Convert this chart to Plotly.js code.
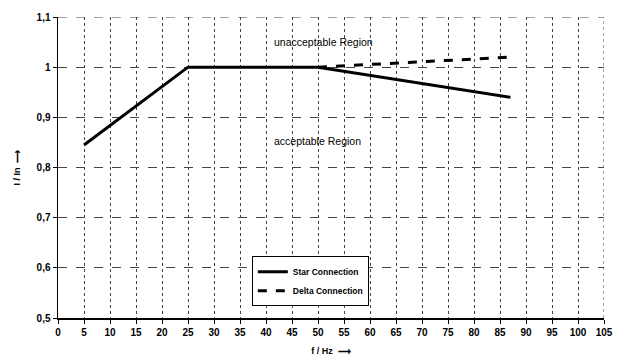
<!DOCTYPE html>
<html><head><meta charset="utf-8">
<script src="https://cdn.plot.ly/plotly-3.0.1.min.js"></script>
<style>html,body{margin:0;padding:0;background:#fff}#c{width:618px;height:362px}</style>
</head><body><div id="c"></div>
<script>
const starF = [5, 25, 50, 87];
const starI = [0.845, 1.0, 1.0, 0.94];
const deltaF = [50, 87];
const deltaI = [1.0, 1.02];
const seriesNames = ["Star Connection", "Delta Connection"];
const regionLabels = ["unacceptable Region", "acceptable Region"];

const font = "Liberation Sans, Arial, sans-serif";
const traces = [
  {x: starF, y: starI, name: seriesNames[0], mode: "lines", line: {color: "#000", width: 3}},
  {x: deltaF, y: deltaI, name: seriesNames[1], mode: "lines", line: {color: "#000", width: 3, dash: "dash"}}
];
const layout = {
  width: 618, height: 362,
  margin: {l: 58, r: 14, t: 17, b: 44},
  paper_bgcolor: "#fff", plot_bgcolor: "#fff",
  separators: ",.",
  font: {family: font, color: "#000", size: 10},
  showlegend: true,
  legend: {x: 0.355, y: 0.205, xanchor: "left", yanchor: "top", bordercolor: "#000", borderwidth: 1,
           bgcolor: "#fff", font: {size: 8.5, family: font, weight: "bold"}, tracegroupgap: 0, itemwidth: 30},
  xaxis: {range: [0, 105], dtick: 5, tick0: 0, showgrid: true, gridcolor: "#444", griddash: "dot", gridwidth: 1,
          showline: true, linecolor: "#000", linewidth: 1.5, ticks: "outside", ticklen: 4, tickcolor: "#000",
          zeroline: false, tickfont: {size: 10, weight: "bold"}, mirror: false,
          title: {text: "<b>f / Hz  ⟶</b>", font: {size: 9}, standoff: 11}},
  yaxis: {range: [0.5, 1.1], dtick: 0.1, tick0: 0.5, showgrid: true, gridcolor: "#444", griddash: "dash", gridwidth: 1,
          showline: true, linecolor: "#000", linewidth: 1.5, ticks: "outside", ticklen: 4, tickcolor: "#000",
          zeroline: false, tickfont: {size: 10, weight: "bold"},
          title: {text: "<b>I / In  ⟶</b>", font: {size: 9}, standoff: 14}},
  shapes: [
    {type: "line", xref: "x", yref: "y", x0: 105, x1: 105, y0: 0.5, y1: 1.1, line: {color: "#444", width: 1, dash: "dot"}},
    {type: "line", xref: "x", yref: "y", x0: 0, x1: 105, y0: 1.1, y1: 1.1, line: {color: "#444", width: 1, dash: "dash"}}
  ],
  annotations: [
    {x: 41.2, y: 1.05, xref: "x", yref: "y", xanchor: "left", text: regionLabels[0], showarrow: false, font: {size: 10.5}},
    {x: 41.2, y: 0.853, xref: "x", yref: "y", xanchor: "left", text: regionLabels[1], showarrow: false, font: {size: 10.5}}
  ]
};
Plotly.newPlot("c", traces, layout, {displayModeBar: false, staticPlot: true});
</script></body></html>
